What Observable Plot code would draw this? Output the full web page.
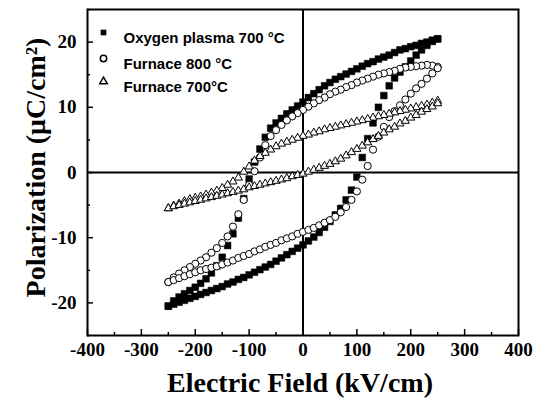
<!DOCTYPE html>
<html><head><meta charset="utf-8">
<script src="https://cdn.jsdelivr.net/npm/d3@7"></script>
<script src="https://cdn.jsdelivr.net/npm/@observablehq/plot@0.6"></script>
<style>body{margin:0;background:#fff}#chart{width:543px;height:405px}</style>
</head><body><div id="chart"></div>
<script>
// Electric field sweep (kV/cm)
const fieldDown = [250,240,230,220,210,200,190,180,170,160,150,140,130,120,110,100,90,80,70,60,50,40,30,20,10,0,-10,-20,-30,-40,-50,-60,-70,-80,-90,-100,-110,-120,-130,-140,-150,-160,-170,-180,-190,-200,-210,-220,-230,-240,-250];
const fieldUp = [-250,-240,-230,-220,-210,-200,-190,-180,-170,-160,-150,-140,-130,-120,-110,-100,-90,-80,-70,-60,-50,-40,-30,-20,-10,0,10,20,30,40,50,60,70,80,90,100,110,120,130,140,150,160,170,180,190,200,210,220,230,240,250];

// Polarization (uC/cm2)
const plasmaDown = [20.5,20.3,20.0,19.8,19.5,19.3,19.0,18.8,18.4,18.0,17.7,17.4,17.0,16.7,16.3,15.9,15.5,15.1,14.7,14.3,13.8,13.3,12.7,12.1,11.5,10.8,10.2,9.6,9.0,8.3,7.6,6.8,5.4,3.6,1.6,-1.0,-4.0,-7.0,-9.4,-11.2,-13.0,-14.3,-15.4,-16.3,-17.0,-17.6,-18.1,-18.6,-19.1,-19.7,-20.5];
const plasmaUp = [-20.5,-20.2,-19.9,-19.6,-19.3,-19.0,-18.7,-18.4,-18.1,-17.8,-17.5,-17.1,-16.8,-16.4,-16.1,-15.7,-15.3,-14.9,-14.5,-14.1,-13.6,-13.1,-12.6,-12.1,-11.6,-11.1,-10.5,-9.9,-9.2,-8.4,-7.5,-6.5,-5.5,-4.2,-2.7,-0.7,2.3,5.2,7.6,10.0,11.8,13.3,14.5,15.4,16.2,17.1,18.0,18.8,19.5,20.1,20.5];
const f800Down = [16.2,16.4,16.5,16.4,16.3,16.2,16.1,15.9,15.6,15.4,15.2,15.0,14.7,14.4,14.1,13.8,13.4,13.1,12.7,12.4,12.0,11.5,11.1,10.6,10.1,9.6,9.1,8.6,8.0,7.3,6.5,5.6,4.2,2.3,0.2,-1.9,-4.2,-6.4,-8.3,-9.8,-10.8,-11.6,-12.3,-13.0,-13.5,-14.0,-14.5,-15.0,-15.5,-16.1,-16.8];
const f800Up = [-16.8,-16.5,-16.2,-15.9,-15.6,-15.3,-15.0,-14.8,-14.6,-14.4,-14.1,-13.8,-13.5,-13.1,-12.8,-12.5,-12.1,-11.8,-11.4,-11.1,-10.8,-10.4,-10.1,-9.8,-9.4,-9.1,-8.8,-8.5,-8.1,-7.7,-7.3,-6.8,-6.1,-5.3,-4.2,-2.9,-1.1,1.0,3.5,5.5,7.0,8.5,9.4,10.3,11.2,12.1,12.9,13.6,14.4,15.2,16.0];
const f700Down = [11.0,10.7,10.4,10.2,10.0,9.8,9.6,9.4,9.2,9.0,8.8,8.6,8.4,8.2,8.0,7.8,7.6,7.4,7.2,7.0,6.8,6.6,6.3,6.1,5.8,5.6,5.3,5.0,4.7,4.4,4.0,3.5,3.0,2.5,1.8,0.9,0.1,-0.8,-1.4,-1.9,-2.4,-2.8,-3.1,-3.4,-3.7,-3.9,-4.1,-4.4,-4.8,-5.1,-5.5];
const f700Up = [-5.5,-5.2,-5.0,-4.8,-4.6,-4.4,-4.2,-4.0,-3.8,-3.6,-3.4,-3.2,-3.0,-2.8,-2.6,-2.3,-2.1,-1.9,-1.7,-1.5,-1.3,-1.1,-0.9,-0.6,-0.4,-0.2,0.1,0.4,0.7,1.0,1.3,1.7,2.1,2.6,3.1,3.6,4.1,4.6,5.1,5.6,6.1,6.6,7.0,7.5,7.9,8.4,8.8,9.3,9.7,10.1,10.6];

const seriesNames = ["Oxygen plasma 700 °C", "Furnace 800 °C", "Furnace 700°C"];
const xTicks = [-400,-300,-200,-100,0,100,200,300,400];
const xMinor = [-350,-250,-150,-50,50,150,250,350];
const yTicks = [-20,-10,0,10,20];
const yMinor = [-25,-15,-5,5,15,25];

function branch(fields, values) { return fields.map((E, i) => ({E, P: values[i]})); }
const plasma = [...branch(fieldDown, plasmaDown), ...branch(fieldUp, plasmaUp)];
const f800 = [...branch(fieldDown, f800Down), ...branch(fieldUp, f800Up)];
const f700 = [...branch(fieldDown, f700Down), ...branch(fieldUp, f700Up)];

const serif = "'Liberation Serif','Times New Roman',serif";
const sans = "'Liberation Sans',Arial,sans-serif";

const chart = Plot.plot({
  width: 543,
  height: 405,
  marginLeft: 87,
  marginRight: 25,
  marginTop: 9,
  marginBottom: 70,
  style: {fontFamily: serif, fontSize: "19px", fontWeight: "bold", color: "#000", background: "#fff"},
  x: {domain: [-400, 400]},
  y: {domain: [-25, 25]},
  marks: [
    Plot.ruleY([0], {stroke: "#000", strokeWidth: 2}),
    Plot.ruleX([0], {stroke: "#000", strokeWidth: 2}),
    Plot.dot(plasma, {x: "E", y: "P", symbol: "square", r: 3.8, fill: "#000", stroke: "#000", strokeWidth: 0.5}),
    Plot.dot(f800, {x: "E", y: "P", symbol: "circle", r: 3.6, fill: "#fff", stroke: "#000", strokeWidth: 1}),
    Plot.dot(f700, {x: "E", y: "P", symbol: "triangle", r: 3.0, fill: "#fff", stroke: "#000", strokeWidth: 1}),
    Plot.frame({stroke: "#000", strokeWidth: 2}),
    Plot.axisX({ticks: xTicks, tickSize: -6, tickPadding: 13, strokeWidth: 1.5, label: null, tickFormat: d => String(d)}),
    Plot.axisX({ticks: xMinor, tickSize: -3, text: null, label: null, strokeWidth: 1.5}),
    Plot.axisY({ticks: yTicks, tickSize: -6, tickPadding: 17, strokeWidth: 1.5, label: null, tickFormat: d => String(d)}),
    Plot.axisY({ticks: yMinor, tickSize: -3, text: null, label: null, strokeWidth: 1.5}),
    Plot.text(["Electric Field (kV/cm)"], {frameAnchor: "bottom", textAnchor: "middle", dy: 56, dx: -3, fontSize: 28, fontWeight: "bold", fontFamily: serif}),
    Plot.text(["Polarization (μC/cm²)"], {frameAnchor: "left", textAnchor: "middle", rotate: -90, dx: -51, dy: -5, fontSize: 28, fontWeight: "bold", fontFamily: serif}),
    // legend
    Plot.dot([seriesNames[0]], {frameAnchor: "top-left", dx: 16, dy: 23, symbol: "square", r: 3.2, fill: "#000"}),
    Plot.dot([seriesNames[1]], {frameAnchor: "top-left", dx: 16, dy: 49, symbol: "circle", r: 3.2, fill: "#fff", stroke: "#000"}),
    Plot.dot([seriesNames[2]], {frameAnchor: "top-left", dx: 16, dy: 72, symbol: "triangle", r: 2.8, fill: "#fff", stroke: "#000"}),
    Plot.text([seriesNames[0]], {frameAnchor: "top-left", dx: 36, dy: 23, textAnchor: "start", fontSize: 15, fontWeight: "bold", fontFamily: sans}),
    Plot.text([seriesNames[1]], {frameAnchor: "top-left", dx: 36, dy: 49, textAnchor: "start", fontSize: 15, fontWeight: "bold", fontFamily: sans}),
    Plot.text([seriesNames[2]], {frameAnchor: "top-left", dx: 36, dy: 72, textAnchor: "start", fontSize: 15, fontWeight: "bold", fontFamily: sans})
  ]
});
document.getElementById("chart").appendChild(chart);
</script></body></html>
